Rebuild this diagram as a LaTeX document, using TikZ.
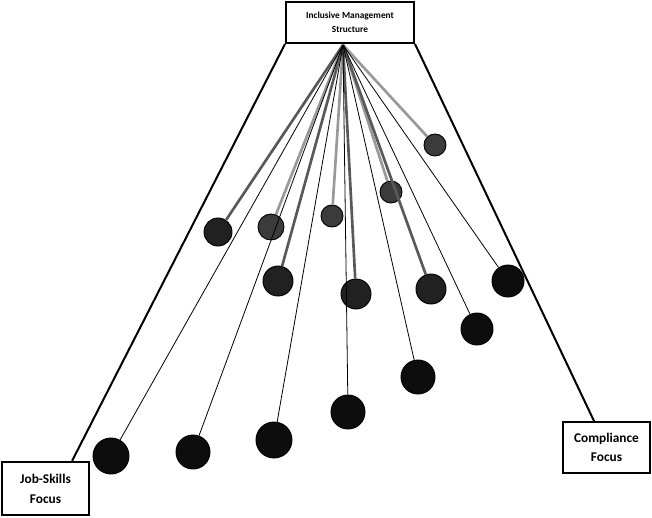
\documentclass[tikz,border=0pt]{standalone}
\usepackage{fontspec}
\setmainfont{Carlito}
\usetikzlibrary{calc}

\begin{document}
\begin{tikzpicture}[
    x=0.75pt, y=-0.75pt,
    box/.style={rectangle, draw, line width=1.5pt, align=center, font=\bfseries, inner sep=2pt},
    dot/.style={circle, draw=black, line width=0.7pt, inner sep=0pt},
    smalldot/.style={dot, fill=black!77, minimum size=16.5pt},
    middot/.style={dot, fill=black!87, minimum size=21pt},
    bigdot/.style={dot, fill=black!95, minimum size=25.5pt},
    lightspoke/.style={draw=black!40, line width=2pt},
    darkspoke/.style={draw=black!65, line width=2pt},
    thinspoke/.style={draw=black, line width=0.6pt},
    side/.style={draw=black, line width=1.5pt}
]
\useasboundingbox (0,0) rectangle (652,517);

% the three boxes
\node[box, minimum width=96pt, minimum height=30.75pt, font=\bfseries\fontsize{7}{10.5}\selectfont] (ims) at (350,22.5) {Inclusive Management\\Structure};
\node[box, minimum width=65pt, minimum height=40pt, font=\bfseries\fontsize{10}{15}\selectfont] (jobskills) at (45.5,488.5) {Job-Skills\\Focus};
\node[box, minimum width=65pt, minimum height=38pt, font=\bfseries\fontsize{10}{14}\selectfont] (compliance) at (606.5,447.5) {Compliance\\Focus};

\draw[side] (ims.south west) -- ($(jobskills.north west)!0.8!(jobskills.north east)$);
\draw[side] (ims.south east) -- ($(compliance.north west)!0.36!(compliance.north east)$);

\coordinate (hub) at (343,45);

% upper row
\node[middot] (c1) at (218,232) {};
\node[smalldot, minimum size=19.5pt] (c2) at (271,227) {};
\node[smalldot] (c3) at (332,216) {};
\node[smalldot] (c4) at (391,192) {};
\node[smalldot] (c5) at (435,145) {};
% middle row
\node[middot, minimum size=22.5pt] (c6) at (278,281) {};
\node[middot, minimum size=22.5pt] (c7) at (356,294) {};
\node[middot, minimum size=22.5pt] (c8) at (431,289) {};
\node[bigdot, minimum size=24pt] (c9) at (508,281) {};
\node[bigdot, minimum size=24pt] (c10) at (477,329) {};
% lower row
\node[bigdot] (c11) at (418,377) {};
\node[bigdot] (c12) at (348,412) {};
\node[bigdot, minimum size=27pt] (c13) at (274,440) {};
\node[bigdot] (c14) at (193,452) {};
\node[bigdot, minimum size=27pt] (c15) at (111,456) {};

% spokes
\foreach \d in {c2,c3,c4,c5}
    \draw[lightspoke] (hub) -- (\d);
\foreach \d in {c1,c6,c7,c8}
    \draw[darkspoke] (hub) -- (\d);
\foreach \d in {c9,c10,c11,c12,c13,c14,c15}
    \draw[thinspoke] (hub) -- (\d);
\end{tikzpicture}
\end{document}
